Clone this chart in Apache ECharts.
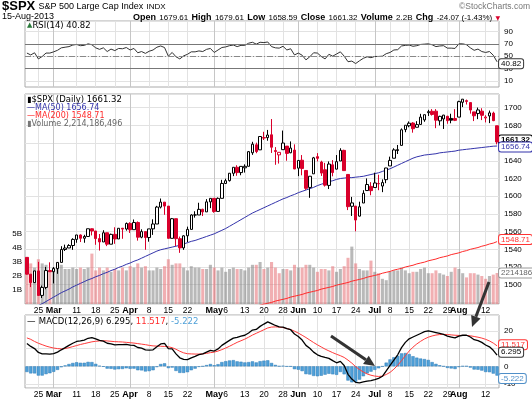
<!DOCTYPE html>
<html>
<head>
<meta charset="utf-8">
<script src="https://cdn.jsdelivr.net/npm/echarts@6/dist/echarts.min.js"></script>
<style>
  html, body { margin: 0; padding: 0; background: #fff; }
  #chart { width: 532px; height: 399px; }
</style>
</head>
<body>
<div id="chart"></div>
<script>
// trading days shown, 20-Feb-2013 .. 15-Aug-2013
const dates = [
  '02-20','02-21','02-22','02-25','02-26','02-27','02-28','03-01','03-04','03-05',
  '03-06','03-07','03-08','03-11','03-12','03-13','03-14','03-15','03-18','03-19',
  '03-20','03-21','03-22','03-25','03-26','03-27','03-28','04-01','04-02','04-03',
  '04-04','04-05','04-08','04-09','04-10','04-11','04-12','04-15','04-16','04-17',
  '04-18','04-19','04-22','04-23','04-24','04-25','04-26','04-29','04-30','05-01',
  '05-02','05-03','05-06','05-07','05-08','05-09','05-10','05-13','05-14','05-15',
  '05-16','05-17','05-20','05-21','05-22','05-23','05-24','05-28','05-29','05-30',
  '05-31','06-03','06-04','06-05','06-06','06-07','06-10','06-11','06-12','06-13',
  '06-14','06-17','06-18','06-19','06-20','06-21','06-24','06-25','06-26','06-27',
  '06-28','07-01','07-02','07-03','07-05','07-08','07-09','07-10','07-11','07-12',
  '07-15','07-16','07-17','07-18','07-19','07-22','07-23','07-24','07-25','07-26',
  '07-29','07-30','07-31','08-01','08-02','08-05','08-06','08-07','08-08','08-09',
  '08-12','08-13','08-14','08-15'
];

// x axis labels (week starts, month names in bold)
const tickDates  = ['02-25','03-01','03-11','03-18','03-25','04-01','04-08','04-15','04-22','05-01','05-06','05-13','05-20','05-28','06-03','06-10','06-17','06-24','07-01','07-08','07-15','07-22','07-29','08-01','08-12'];
const tickLabels = ['25','Mar','11','18','25','Apr','8','15','22','May','6','13','20','28','Jun','10','17','24','Jul','8','15','22','29','Aug','12'];
const monthDates = ['03-01','04-01','05-01','06-03','07-01','08-01'];

const prevClose = 1530.94;
const opens = [
  1530.9,1511.9,1502.4,1515.6,1487.9,1496.9,1516.0,1514.7,1518.2,1525.2,
  1539.8,1541.5,1544.3,1551.2,1556.2,1552.5,1554.5,1563.2,1560.7,1552.1,
  1548.3,1558.7,1545.8,1556.9,1551.7,1563.8,1562.9,1569.2,1562.2,1570.3,
  1553.7,1560.0,1553.3,1563.1,1568.6,1587.7,1593.3,1588.8,1552.4,1574.6,
  1552.0,1541.6,1555.3,1562.5,1578.8,1578.8,1585.2,1582.3,1593.6,1597.6,
  1582.8,1597.6,1614.4,1617.6,1625.9,1632.7,1626.7,1632.1,1633.8,1649.1,
  1658.1,1652.4,1665.7,1666.2,1669.4,1651.6,1646.7,1652.6,1656.6,1649.1,
  1652.1,1631.7,1640.7,1629.1,1609.9,1625.3,1644.7,1638.6,1629.9,1612.2,
  1635.5,1630.6,1639.8,1651.8,1624.6,1588.6,1588.8,1577.5,1592.3,1606.4,
  1611.1,1609.8,1614.3,1611.5,1618.7,1634.2,1642.9,1651.6,1657.4,1675.3,
  1679.6,1682.7,1677.9,1681.1,1686.2,1694.4,1696.0,1696.1,1685.2,1687.3,
  1690.3,1687.9,1687.8,1689.4,1706.1,1708.0,1705.8,1695.3,1693.4,1696.1,
  1688.4,1690.7,1693.9,1679.61
];
const highs = [
  1530.9,1511.9,1515.6,1525.8,1499.0,1520.1,1525.3,1520.0,1525.3,1543.5,
  1545.3,1545.8,1552.5,1556.3,1556.8,1556.4,1563.3,1563.6,1560.7,1557.3,
  1561.6,1558.7,1557.7,1564.9,1563.9,1564.1,1570.3,1570.6,1573.7,1571.5,
  1562.6,1560.0,1563.1,1573.9,1589.1,1597.4,1593.3,1588.8,1575.4,1574.6,
  1554.4,1555.9,1565.6,1579.6,1583.0,1592.6,1585.8,1596.7,1597.6,1597.6,
  1598.6,1618.5,1619.8,1626.0,1632.8,1635.0,1633.7,1636.0,1651.1,1661.5,
  1660.5,1667.5,1672.8,1674.9,1687.2,1655.5,1649.8,1674.2,1656.6,1661.9,
  1658.6,1640.5,1646.5,1629.3,1622.6,1644.4,1648.7,1640.1,1637.7,1639.3,
  1640.8,1646.5,1654.2,1652.5,1624.6,1599.2,1588.8,1593.8,1606.8,1620.1,
  1615.9,1626.6,1624.3,1619.0,1632.1,1644.7,1654.2,1657.9,1676.6,1680.2,
  1684.5,1683.7,1684.8,1693.1,1692.1,1697.6,1698.4,1698.4,1690.9,1691.9,
  1690.9,1693.2,1698.4,1707.9,1709.7,1709.2,1705.8,1695.3,1700.2,1699.4,
  1691.5,1696.8,1695.5,1679.61
];
const lows = [
  1511.4,1497.3,1502.4,1487.9,1485.0,1494.9,1514.5,1501.5,1512.3,1525.2,
  1538.1,1541.5,1539.4,1547.4,1548.2,1547.4,1554.5,1555.7,1545.1,1538.6,
  1548.3,1543.6,1545.8,1546.2,1551.7,1551.9,1561.1,1558.5,1562.2,1549.8,
  1552.5,1539.5,1548.6,1556.3,1568.6,1586.2,1579.0,1552.3,1552.4,1543.7,
  1536.0,1539.4,1548.2,1562.5,1575.8,1578.8,1577.6,1582.3,1586.5,1581.3,
  1582.8,1597.6,1614.2,1616.6,1622.7,1623.1,1623.7,1626.7,1633.8,1646.7,
  1648.6,1652.4,1663.5,1662.7,1648.9,1635.5,1636.9,1652.6,1640.1,1648.6,
  1630.7,1622.7,1623.6,1607.1,1598.2,1625.3,1639.3,1622.9,1610.9,1608.1,
  1622.5,1630.3,1639.8,1628.9,1584.3,1577.7,1560.3,1577.1,1592.3,1606.4,
  1601.1,1609.8,1606.8,1604.6,1614.7,1634.2,1642.9,1647.7,1657.4,1672.3,
  1677.9,1671.8,1677.9,1681.1,1684.1,1690.7,1691.1,1676.9,1680.0,1676.0,
  1681.9,1682.4,1684.9,1689.4,1700.7,1703.6,1693.3,1684.9,1687.1,1686.0,
  1683.4,1682.6,1684.8,1658.59
];
const closes = [
  1511.95,1502.42,1515.60,1487.85,1496.94,1515.99,1514.68,1518.20,1525.20,1539.79,
  1541.46,1544.26,1551.18,1556.22,1552.48,1554.52,1563.23,1560.70,1552.10,1548.34,
  1558.71,1545.80,1556.89,1551.69,1563.77,1562.85,1569.19,1562.17,1570.25,1553.69,
  1559.98,1553.28,1563.07,1568.61,1587.73,1593.37,1588.85,1552.36,1574.57,1552.01,
  1541.61,1555.25,1562.50,1578.78,1578.79,1585.16,1582.24,1593.61,1597.57,1582.70,
  1597.59,1614.42,1617.50,1625.96,1632.69,1626.67,1633.70,1633.77,1650.34,1658.78,
  1650.47,1667.47,1666.29,1669.16,1655.35,1650.51,1649.60,1660.06,1648.36,1654.41,
  1630.74,1640.42,1631.38,1608.90,1622.56,1643.38,1642.81,1626.13,1612.52,1636.36,
  1626.73,1639.04,1651.81,1628.93,1588.19,1592.43,1573.09,1588.03,1603.26,1613.20,
  1606.28,1614.96,1614.08,1615.41,1631.89,1640.46,1652.32,1652.62,1675.02,1680.19,
  1682.50,1676.26,1680.91,1689.37,1692.09,1695.53,1692.39,1685.94,1690.25,1691.65,
  1685.33,1685.96,1685.73,1706.87,1709.67,1707.14,1697.37,1690.91,1697.48,1691.42,
  1689.47,1694.16,1685.39,1661.32
];
// volume, billions of shares
const volume = [
  3.0,2.9,2.6,3.2,2.9,2.8,2.4,2.6,2.7,2.8,
  2.5,2.5,2.6,2.5,2.6,2.5,2.6,3.6,2.4,2.6,
  2.4,2.6,2.3,2.5,2.4,2.6,2.4,2.7,2.6,2.9,
  2.6,2.7,2.4,2.4,2.6,2.5,2.7,3.2,2.8,2.9,
  2.9,2.6,2.4,2.7,2.6,2.6,2.5,2.5,2.8,2.6,
  2.4,2.6,2.3,2.5,2.6,2.5,2.5,2.4,2.6,2.8,
  2.8,3.0,2.5,2.6,3.0,2.6,2.2,2.5,2.5,2.4,
  2.8,2.6,2.6,2.8,2.8,2.6,2.3,2.5,2.5,2.4,
  2.7,2.3,2.5,2.7,3.3,4.1,2.9,2.5,2.4,2.4,
  3.1,2.3,2.2,1.8,1.7,2.3,2.4,2.4,2.6,2.4,
  2.2,2.3,2.3,2.5,2.6,2.2,2.2,2.4,2.2,2.1,
  2.0,2.3,2.6,2.5,2.2,1.9,2.2,2.2,2.1,2.0,
  1.8,2.0,2.1,2.214
];
const ma50 = [
  1470,1472.5,1474.5,1476.5,1478.5,1481,1483.5,1486,1488.5,1491,
  1493,1495,1497.5,1499.5,1501.5,1503.5,1505.5,1507,1509,1510.5,
  1512.5,1514,1516,1517.5,1519.5,1521,1523,1524.5,1526.5,1528,
  1530,1532,1534,1536,1538,1539.5,1540.5,1541.5,1542.5,1543.5,
  1544.5,1546,1547.5,1549,1550,1551.5,1553,1554.5,1556,1557.5,
  1559.5,1561.5,1563.5,1566,1568.5,1571,1573.5,1576,1578.5,1581,
  1583,1585,1587,1589,1591,1593,1595,1597,1598.5,1600.5,
  1602,1604,1605.5,1607,1608.5,1610,1612,1613.5,1615,1616.5,
  1617.5,1619,1620,1620.5,1621,1621,1621.5,1622,1622.5,1623.5,
  1624.5,1625.5,1626.5,1628,1629.5,1631,1633,1635,1637,1639,
  1641,1643,1644.5,1645.5,1646.5,1647,1647.5,1648,1649,1649.5,
  1650,1650.5,1651,1652,1652.5,1653,1653.5,1654,1654.5,1655,
  1655.5,1656,1656.5,1656.74
];
const ma200 = [
  null,null,null,null,null,null,null,null,null,null,
  null,null,null,null,null,null,null,null,null,null,
  null,null,null,null,null,null,null,null,null,null,
  null,null,null,null,null,null,null,null,null,null,
  null,null,null,null,null,null,null,null,null,null,
  null,null,null,null,null,1470,1471,1472,1473.5,1474.5,
  1475.5,1477,1478,1479,1480,1481.5,1482.5,1483.5,1484.5,1486,
  1487,1488,1489,1490.5,1491.5,1492.5,1493.5,1495,1496,1497,
  1498,1499.5,1500.5,1501.5,1502.5,1504,1505,1506,1507,1508.5,
  1509.5,1510.5,1511.5,1513,1514,1515,1516.5,1517.5,1518.5,1520,
  1521,1522,1523.5,1524.5,1525.5,1527,1528,1529,1530.5,1531.5,
  1532.5,1534,1535,1536,1537.5,1538.5,1540,1541,1542,1543.5,
  1544.5,1546,1547,1548.71
];
const rsi = [
  55,52,55.5,45.5,49.5,55,55,57,59.5,63.5,
  64.5,65.5,68,69,67,67.5,70,68.5,63.5,61,
  63.5,57.5,61.5,59,62.5,62,64,60,62.5,55.5,
  57.5,54.5,58,60,64.5,66.5,64,50,56,49,
  45.5,50.5,53,57,57,58.5,57.5,61,62.5,56,
  60,64,65,67,68,65.5,67.5,67.5,71,72.5,
  69.5,72.5,72,73,65.5,63.5,63,66,60,62,
  52,55,51.5,44,49,55.5,55,49.5,45.5,53,
  50,53.5,57,50,41,42,38,42.5,46.5,49,
  47.5,49.5,49.5,50,54,56,60,60.5,66.5,67.5,
  68,66,67,69,69.5,70,68.5,65.5,66.5,67,
  63,63,62.5,70,70,68.5,63.5,59.5,61.5,57.5,
  56,57.5,51.5,40.82
];
const macd = [
  12.8,11.2,10,7.8,7,7,6.9,7.2,8,9.3,
  10.5,11.8,13,14,14.3,14.8,15.8,16.2,15.5,14.6,
  14.2,13,12.7,12.1,12.2,12.2,12.4,11.9,11.8,10.6,
  10.2,9.3,9.1,9.3,11,12.6,12.9,10,9.8,7,
  4.8,3.9,3.8,4.8,5.6,6.6,7,8,9,8.6,
  9.8,11.8,13.2,14.6,15.9,16.3,17,17.5,18.8,20.4,
  20.8,22.5,23.8,25,24,23,22.2,22.1,21.2,20.6,
  18.2,16.8,14.8,11.8,10.2,8,6.5,5.6,5,4.5,
  3.2,2,2.8,0.5,-4.5,-7.2,-9,-9.3,-8.8,-8.3,
  -8,-7.5,-6.8,-5.6,-2.5,0.5,3.5,6.5,10.5,13.5,
  15.5,16.5,17.5,18.5,19.5,20,19.5,19,18.5,18,
  17,16.5,16,17,17.5,17.5,16.5,15,14.5,13.5,
  12,11,9,6.295
];
const signal = [
  16,15.2,14,13,12.2,11.4,10.8,10.3,10,9.8,
  10,10.5,11.1,11.7,12.3,12.8,13.3,13.8,14.1,14.3,
  14.4,14.3,14.1,13.9,13.8,13.7,13.5,13.3,13.1,12.8,
  12.5,12.2,11.8,11.5,11.4,11.3,11.2,11,10.5,9.6,
  8.5,7.6,7.1,7,6.9,6.9,7,7.3,7.7,8,
  8.6,9.4,10.3,11.3,12.4,13.5,14.4,15.3,16.4,17.6,
  18.6,19.6,20.6,21.6,22.1,22.2,22.1,21.8,21.3,20.7,
  19.8,18.7,17.5,16.2,14.8,13.4,12.1,10.9,9.7,8.7,
  7.7,6.8,6,5,3.5,1.8,-0.2,-1.8,-3.2,-4.3,
  -5,-5.5,-5.7,-5.5,-4.6,-3.4,-1.6,0.6,3.2,6,
  8.6,10.8,12.6,14.1,15.4,16.4,17.1,17.6,17.9,18,
  17.9,17.7,17.5,17.4,17.4,17.4,17.2,16.8,16.4,15.9,
  15.2,14.3,13.1,11.517
];
const hist = [
  -3.2,-4,-4,-5.2,-5.2,-4.4,-3.9,-3.1,-2,-0.5,
  0.5,1.3,1.9,2.3,2,2,2.5,2.4,1.4,0.3,
  -0.2,-1.3,-1.4,-1.8,-1.6,-1.5,-1.1,-1.4,-1.3,-2.2,
  -2.3,-2.9,-2.7,-2.2,-0.4,1.3,1.7,-1,-0.7,-2.6,
  -3.7,-3.7,-3.3,-2.2,-1.3,-0.3,0,0.7,1.3,0.6,
  1.2,2.4,2.9,3.3,3.5,2.8,2.6,2.2,2.4,2.8,
  2.2,2.9,3.2,3.4,1.9,0.8,0.1,0.3,-0.1,-0.1,
  -1.6,-1.9,-2.7,-4.4,-4.6,-5.4,-5.6,-5.3,-4.7,-4.2,
  -4.5,-4.8,-3.2,-4.5,-8,-9,-8.8,-7.5,-5.6,-4,
  -3,-2,-1.1,-0.1,2.1,3.9,5.1,5.9,7.3,7.5,
  6.9,5.7,4.9,4.4,4.1,3.6,2.4,1.4,0.6,0,
  -0.9,-1.2,-1.5,-0.4,0.1,0.1,-0.7,-1.8,-1.9,-2.4,
  -3.2,-3.3,-4.1,-5.222
];

// hand-drawn annotation arrows on the picture, [tailX, tailY, headX, headY] in px
const arrows = [
  [331, 336, 375, 366],
  [489, 282, 472, 327]
];

const RED = '#d9002b';
const FONT = 'DejaVu Sans';
const AXF = 'Liberation Sans';
const last = dates.length - 1;
const tickIdx = new Map(tickDates.map((d, k) => [dates.indexOf(d), tickLabels[k]]));
const monthIdx = new Set(monthDates.map(d => dates.indexOf(d)));
const monthNames = new Set(['Mar', 'Apr', 'May', 'Jun', 'Jul', 'Aug']);

const candles = dates.map((d, i) => {
  const prev = i === 0 ? prevClose : closes[i - 1];
  const col = closes[i] >= prev ? '#000' : RED;
  const fill = closes[i] > opens[i] ? '#fff' : col;
  return {
    value: [opens[i], closes[i], lows[i], highs[i]],
    itemStyle: { color: fill, color0: fill, borderColor: col, borderColor0: col }
  };
});
const volBars = volume.map((v, i) => {
  const prev = i === 0 ? prevClose : closes[i - 1];
  return { value: v, itemStyle: { color: closes[i] >= prev ? 'rgba(128,128,128,0.55)' : 'rgba(230,110,115,0.55)' } };
});

function endTag(v, text, border, color, dy, bold) {
  return {
    symbol: 'rect', symbolSize: 0, silent: true, animation: false,
    data: [{ coord: [last, v] }],
    label: {
      show: true, position: 'right', distance: 2, offset: [0, dy || 0],
      formatter: text, color: color, fontFamily: AXF, fontSize: 8,
      fontWeight: bold ? 'bold' : 'normal',
      backgroundColor: '#fff', borderColor: border, borderWidth: 1,
      borderRadius: 2, padding: [1, 2, 0, 2]
    }
  };
}

function xAxisFor(grid, labels) {
  return {
    type: 'category', gridIndex: grid, data: dates, boundaryGap: true,
    axisLine: { show: false }, axisTick: { show: false },
    axisLabel: {
      show: labels, interval: i => tickIdx.has(i), margin: 2,
      fontFamily: AXF, fontSize: 8.5, color: '#000',
      formatter: (v, i) => {
        const t = tickIdx.get(i);
        return monthNames.has(t) ? '{m|' + t + '}' : t;
      },
      rich: { m: { fontFamily: AXF, fontSize: 9, fontWeight: 'bold', color: '#000' } }
    },
    splitLine: { show: true, alignWithLabel: true, interval: i => tickIdx.has(i), lineStyle: { color: '#e2e2e2', width: 1 } }
  };
}
function monthAxisFor(grid) {
  return {
    type: 'category', gridIndex: grid, data: dates, boundaryGap: true, show: true,
    axisLine: { show: false }, axisTick: { show: false }, axisLabel: { show: false },
    splitLine: { show: true, alignWithLabel: true, interval: i => monthIdx.has(i), lineStyle: { color: '#c6c6c6', width: 1 } }
  };
}
const axisLbl = { fontFamily: AXF, fontSize: 8, color: '#000', margin: 5 };

function arrowGraphics(a) {
  const [x1, y1, x2, y2] = a;
  const ang = Math.atan2(y2 - y1, x2 - x1);
  const len = 11, half = 5;
  const bx = x2 - len * Math.cos(ang), by = y2 - len * Math.sin(ang);
  const px = -Math.sin(ang) * half, py = Math.cos(ang) * half;
  return [
    { type: 'line', z: 20, silent: true, shape: { x1: x1, y1: y1, x2: bx, y2: by }, style: { stroke: '#333', lineWidth: 3 } },
    { type: 'polygon', z: 20, silent: true, shape: { points: [[x2, y2], [bx + px, by + py], [bx - px, by - py]] }, style: { fill: '#333' } }
  ];
}

const option = {
  animation: false,
  backgroundColor: '#fff',
  grid: [
    { left: 25, right: 33, top: 21, height: 66, show: true, borderColor: '#aaa', backgroundColor: '#fff' },
    { left: 25, right: 33, top: 94, height: 210, show: true, borderColor: '#aaa', backgroundColor: '#fff' },
    { left: 25, right: 33, top: 315, height: 74, show: true, borderColor: '#aaa', backgroundColor: '#fff' }
  ],
  xAxis: [xAxisFor(0, false), xAxisFor(1, true), xAxisFor(2, true), monthAxisFor(0), monthAxisFor(1), monthAxisFor(2)],
  yAxis: [
    { type: 'value', gridIndex: 0, position: 'right', min: 0, max: 107, interval: 10,
      axisLine: { show: false }, axisTick: { show: false },
      axisLabel: Object.assign({}, axisLbl, { formatter: v => (v % 20 === 10 ? v : '') }),
      splitLine: { show: true, lineStyle: { color: ['rgba(0,0,0,0)', '#e2e2e2'] } } },
    { type: 'value', gridIndex: 1, position: 'right', min: 1478.2, max: 1715.5, splitNumber: 12, scale: true,
      axisLine: { show: false }, axisTick: { show: false },
      axisLabel: Object.assign({}, axisLbl, { formatter: v => (v % 20 === 0 && v >= 1500 ? v : '') }),
      splitLine: { show: true, lineStyle: { color: '#e2e2e2' } } },
    { type: 'value', gridIndex: 1, position: 'left', min: 0, max: 15, interval: 1,
      axisLine: { show: false }, axisTick: { show: false }, splitLine: { show: false },
      axisLabel: Object.assign({}, axisLbl, { margin: 3, formatter: v => (v >= 1 && v <= 5 ? v + 'B' : '') }) },
    { type: 'value', gridIndex: 2, position: 'right', min: -12.2, max: 28.9, splitNumber: 4, scale: true,
      axisLine: { show: false }, axisTick: { show: false },
      axisLabel: Object.assign({}, axisLbl, { formatter: v => (v % 10 === 0 && v !== 10 ? v : '') }),
      splitLine: { show: true, lineStyle: { color: '#e2e2e2' } } }
  ],
  series: [
    { name: 'RSI', type: 'line', xAxisIndex: 0, yAxisIndex: 0, data: rsi, symbol: 'none', z: 4,
      lineStyle: { color: '#333', width: 1 },
      markLine: { silent: true, symbol: 'none', animation: false, label: { show: false },
        lineStyle: { color: '#777', width: 1, type: 'solid' },
        data: [{ yAxis: 70 }, { yAxis: 50, lineStyle: { type: [6, 2, 1, 2], color: '#888' } }, { yAxis: 30 }] },
      markPoint: endTag(40.82, '40.82', '#333', '#000', 2, false) },
    { name: 'Volume', type: 'bar', xAxisIndex: 1, yAxisIndex: 2, data: volBars, barCategoryGap: '20%', z: 1,
      markPoint: endTag(2.214, '2214186496', '#999', '#666', 0, false) },
    { name: '$SPX', type: 'candlestick', xAxisIndex: 1, yAxisIndex: 1, data: candles, barWidth: 3, z: 5,
      itemStyle: { borderWidth: 1 },
      markPoint: endTag(1661.32, '1661.32', '#000', '#000', -2, true) },
    { name: 'MA(50)', type: 'line', xAxisIndex: 1, yAxisIndex: 1, data: ma50, symbol: 'none', z: 4,
      lineStyle: { color: '#3333aa', width: 1 },
      markPoint: endTag(1656.74, '1656.74', '#3333aa', '#3333aa', 1, false) },
    { name: 'MA(200)', type: 'line', xAxisIndex: 1, yAxisIndex: 1, data: ma200, symbol: 'none', z: 4,
      lineStyle: { color: '#ff2a2a', width: 1 },
      markPoint: endTag(1548.71, '1548.71', '#ff3333', '#ff3333', -2, false) },
    { name: 'Hist', type: 'bar', xAxisIndex: 2, yAxisIndex: 3, data: hist, barCategoryGap: '15%', z: 2,
      itemStyle: { color: '#4fa0d8', borderColor: '#2f7db8', borderWidth: 0.5 },
      markPoint: endTag(-5.222, '-5.222', '#4f8fc8', '#4f8fc8', 3, false) },
    { name: 'Signal', type: 'line', xAxisIndex: 2, yAxisIndex: 3, data: signal, symbol: 'none', z: 4,
      lineStyle: { color: '#ff3b3b', width: 1 },
      markPoint: endTag(11.517, '11.517', '#ff3333', '#ff3333', -1, false) },
    { name: 'MACD', type: 'line', xAxisIndex: 2, yAxisIndex: 3, data: macd, symbol: 'none', z: 5,
      lineStyle: { color: '#000', width: 1.3 },
      markPoint: endTag(6.295, '6.295', '#333', '#000', -3, false) }
  ],
  graphic: [
    { type: 'text', left: 2, top: 0, z: 10, style: {
      text: '{a|$SPX} {b|S&P 500 Large Cap Index} {c|INDX}',
      rich: {
        a: { fontFamily: 'Liberation Sans', fontSize: 13, fontWeight: 'bold', fill: '#000' },
        b: { fontFamily: 'Liberation Sans', fontSize: 9, fill: '#000' },
        c: { fontFamily: 'Liberation Sans', fontSize: 8, fill: '#000' }
      } } },
    { type: 'text', right: 2, top: 2, z: 10, style: { text: '©StockCharts.com', fontFamily: 'Liberation Sans', fontSize: 8.5, fill: '#777' } },
    { type: 'text', left: 2, top: 12, z: 10, style: { text: '15-Aug-2013', fontFamily: 'Liberation Sans', fontSize: 9, fill: '#000' } },
    { type: 'text', left: 133, top: 12, z: 10, style: {
      text: '{l|Open} {v|1679.61} {l|High} {v|1679.61} {l|Low} {v|1658.59} {l|Close} {v|1661.32} {l|Volume} {v|2.2B} {l|Chg} {v|-24.07 (-1.43%)} {r|▼}',
      rich: {
        l: { fontFamily: 'Liberation Sans', fontSize: 9, fontWeight: 'bold', fill: '#000' },
        v: { fontFamily: 'Liberation Sans', fontSize: 8, fill: '#000' },
        r: { fontFamily: 'DejaVu Sans', fontSize: 6, fill: RED }
      } } },
    { type: 'text', left: 27, top: 21, z: 10, style: {
      text: '{i|▲}{t|RSI(14) 40.82}',
      rich: { i: { fontSize: 7, fill: '#2a7a3a', fontFamily: FONT }, t: { fontFamily: FONT, fontSize: 8.5, fill: '#000' } } } },
    { type: 'text', left: 27, top: 95, z: 10, style: {
      text: '{i|▮}{t|$SPX (Daily) 1661.32}\n{b|—}{bt|MA(50) 1656.74}\n{r|—}{rt|MA(200) 1548.71}\n{g|▮}{gt|Volume 2,214,186,496}',
      lineHeight: 8.3,
      rich: {
        i: { fontFamily: FONT, fontSize: 8, fill: '#000', lineHeight: 8.3 },
        t: { fontFamily: FONT, fontSize: 8.5, fill: '#000', lineHeight: 8.3 },
        b: { fontFamily: FONT, fontSize: 8, fill: '#3333aa', lineHeight: 8.3 },
        bt: { fontFamily: FONT, fontSize: 8, fill: '#3333aa', lineHeight: 8.3 },
        r: { fontFamily: FONT, fontSize: 8, fill: '#ff2a2a', lineHeight: 8.3 },
        rt: { fontFamily: FONT, fontSize: 8, fill: '#ff2a2a', lineHeight: 8.3 },
        g: { fontFamily: FONT, fontSize: 8, fill: '#777', lineHeight: 8.3 },
        gt: { fontFamily: FONT, fontSize: 8, fill: '#666', lineHeight: 8.3 }
      } } },
    { type: 'text', left: 27, top: 316, z: 10, style: {
      text: '{k|—} {k|MACD(12,26,9) 6.295}{k|, }{r|11.517}{k|, }{b|-5.222}',
      rich: {
        k: { fontFamily: FONT, fontSize: 8.5, fill: '#000' },
        r: { fontFamily: FONT, fontSize: 8.5, fill: '#ff2a2a' },
        b: { fontFamily: FONT, fontSize: 8.5, fill: '#4fa0d8' }
      } } }
  ].concat(arrows.map(arrowGraphics).flat())
};

const chart = echarts.init(document.getElementById('chart'));
chart.setOption(option);
</script>
</body>
</html>
